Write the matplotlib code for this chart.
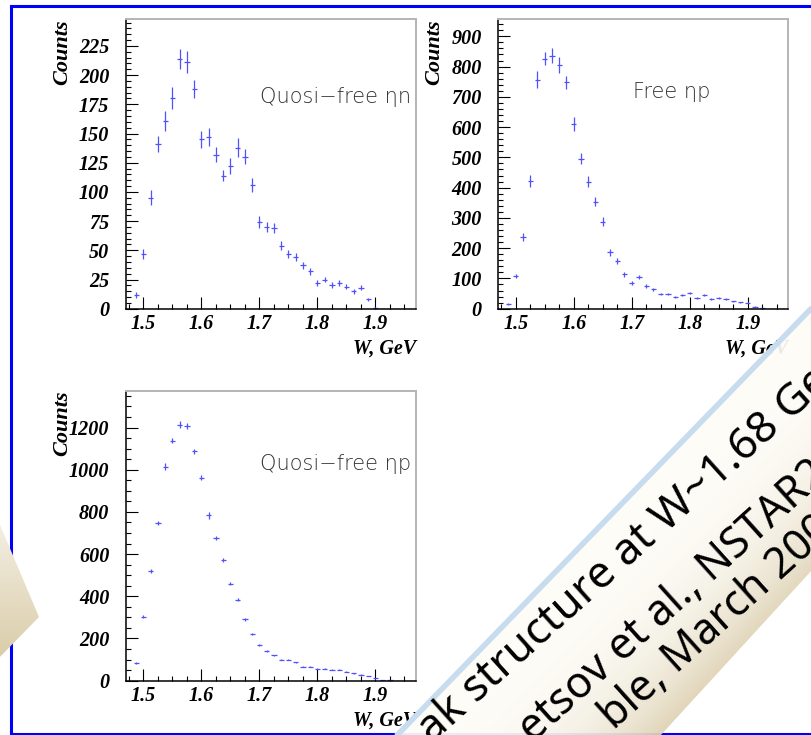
import numpy as np
import matplotlib.pyplot as plt
from matplotlib.patches import Polygon
from matplotlib.ticker import MultipleLocator

# bin centres of the W spectra, GeV
w_centres = np.arange(1.4875, 1.97, 0.0125)

# quasi-free eta n
counts_eta_n = [12, 47, 95, 141, 161, 180, 214, 211, 188, 145, 147, 132, 114, 122,
                138, 130, 106, 74, 70, 69, 54, 47, 44, 37, 32, 22, 25, 20, 22, 19,
                15, 18, 8, 1, 0, 0, 0, 0, 0]
err_eta_n = [2.5, 4.3, 6.3, 7, 8.6, 9.4, 8.5, 9.3, 8, 7, 7.5, 6.4, 5, 7, 8, 6.4,
             5.7, 5, 4.5, 4.5, 4, 3.5, 3.5, 3, 3, 2.5, 2.5, 2.5, 2.5, 2.2, 2, 2.2,
             1.5, 0.5, 0, 0, 0, 0, 0]

# free eta p
counts_free_p = [15, 109, 237, 422, 757, 826, 836, 806, 748, 610, 496, 419, 354,
                 288, 186, 158, 114, 84, 104, 75, 64, 48, 48, 40, 45, 51, 36, 44,
                 31, 35, 31, 24, 21, 20, 7, 1, 0, 0, 0]
err_free_p = [4, 7, 12, 19, 27, 22, 25, 26, 22, 22, 18, 18, 16, 15, 12, 10, 8, 6,
              7, 5, 4, 4, 4, 3, 3.5, 4, 3, 3.5, 3, 3, 3, 2.5, 2, 2, 1.5, 0.5, 0, 0, 0]

# quasi-free eta p
counts_qf_p = [85, 304, 519, 746, 1015, 1138, 1213, 1208, 1088, 963, 784, 678, 572,
               460, 383, 291, 220, 169, 141, 120, 100, 100, 87, 66, 66, 57, 57, 51,
               51, 43, 35, 28, 22, 11, 3, 1, 0, 0, 0]
err_qf_p = [5, 8, 10, 10, 15, 12, 16, 15, 12, 10, 16, 9, 8, 8, 7, 6, 5, 5, 4, 4, 4,
            4, 3, 3, 3, 3, 3, 2.5, 2.5, 2.5, 2, 2, 2, 1.5, 1, 0.5, 0, 0, 0]

x_ticks = [1.5, 1.6, 1.7, 1.8, 1.9]
x_tick_labels = ['1.5', '1.6', '1.7', '1.8', '1.9']

panel_labels = ['Quosi\u2212free \u03b7n', 'Free \u03b7p', 'Quosi\u2212free \u03b7p']
banner_lines = ['ak structure at W~1.68 GeV', 'etsov et al., NSTAR2005',
                'ble, March 2005']

W, H = 812, 735
serif = dict(family='Liberation Serif', weight='bold', style='italic')


def draw_panel(ax, counts, errs, ymax, ymajor, yminor, label, label_xy):
    ax.errorbar(w_centres, counts, yerr=errs, xerr=0.0045, fmt='none',
                ecolor='#5050ff', elinewidth=0.9, capsize=0, clip_on=True)
    ax.set_xlim(1.47, 1.97)
    ax.set_ylim(0, ymax)

    ax.set_xticks(x_ticks)
    ax.set_xticklabels(x_tick_labels)
    ax.xaxis.set_minor_locator(MultipleLocator(0.025))
    ax.yaxis.set_major_locator(MultipleLocator(ymajor))
    ax.yaxis.set_minor_locator(MultipleLocator(yminor))

    ax.tick_params(which='both', direction='in', top=False, right=False,
                   width=0.8, color='black')
    ax.tick_params(which='major', length=8.5)
    ax.tick_params(which='minor', length=3.5)
    ax.tick_params(axis='y', which='major', pad=12)
    ax.tick_params(axis='x', which='major', pad=4)
    for lab in ax.get_xticklabels() + ax.get_yticklabels():
        lab.set_fontproperties(serif)
        lab.set_fontsize(14.5)

    for side in ['left', 'bottom']:
        ax.spines[side].set_color('black')
        ax.spines[side].set_linewidth(1.1)
    for side in ['top', 'right']:
        ax.spines[side].set_color('#b4b4b4')
        ax.spines[side].set_linewidth(1.4)

    ax.text(1.0, -0.136, 'W, GeV', transform=ax.transAxes, ha='right',
            va='center', fontsize=14.5, **serif)
    ax.text(-0.22, 1.0, 'Counts', transform=ax.transAxes, rotation=90,
            ha='center', va='top', fontsize=16, **serif)
    ax.text(label_xy[0], label_xy[1], label, transform=ax.transAxes,
            ha='left', va='center', fontsize=15, color='#333333',
            family=['DejaVu Sans'], weight='light')


fig = plt.figure(figsize=(W / 100, H / 100), dpi=100)

ax1 = fig.add_axes([0.1552, 0.580, 0.3571, 0.3941])
ax2 = fig.add_axes([0.6137, 0.580, 0.3571, 0.3941])
ax3 = fig.add_axes([0.1552, 0.0739, 0.3571, 0.3946])

draw_panel(ax1, counts_eta_n, err_eta_n, 248, 25, 5, panel_labels[0], (0.462, 0.731))
draw_panel(ax2, counts_free_p, err_free_p, 957, 100, 20, panel_labels[1], (0.464, 0.748))
draw_panel(ax3, counts_qf_p, err_qf_p, 1375, 200, 50, panel_labels[2], (0.462, 0.747))

# slide decorations drawn in pixel coordinates on top
ov = fig.add_axes([0, 0, 1, 1], zorder=10)
ov.set_xlim(0, W)
ov.set_ylim(H, 0)
ov.axis('off')
ov.patch.set_alpha(0)

frame = dict(color='#0000ff', lw=2.2, solid_capstyle='projecting')
ov.plot([11.5, W + 5], [6, 6], **frame)
ov.plot([11.5, 11.5], [6, 733.5], **frame)
ov.plot([11.5, W + 5], [733.5, 733.5], **frame)

yy, xx = np.mgrid[0:H, 0:W] + 0.5

# arrow head at the left edge
arrow = Polygon([(-5, 513), (39, 617), (-5, 662)], closed=True,
                facecolor='none', edgecolor='none')
ov.add_patch(arrow)
ta = np.clip((yy - 530) / 130, 0, 1)
arrow_img = np.dstack([0.95 - 0.10 * ta, 0.93 - 0.13 * ta, 0.88 - 0.22 * ta])
im_a = ov.imshow(arrow_img, extent=(0, W, H, 0), zorder=3, interpolation='bilinear')
im_a.set_clip_path(arrow)

# tilted banner
A = np.array([373.0, 760.0])
B = np.array([900.0, 217.0])
u = (B - A) / np.hypot(*(B - A))
n = np.array([-u[1], u[0]])
banner = Polygon([(373, 760), (900, 217), (900, 474), (638, 760)], closed=True,
                 facecolor='none', edgecolor='none')
ov.add_patch(banner)
tb = np.clip(((xx - A[0]) * n[0] + (yy - A[1]) * n[1]) / 190, 0, 1)
c0 = np.array([0.995, 0.99, 0.97])
c1 = np.array([0.87, 0.82, 0.70])
banner_img = c0 + (c1 - c0) * (tb[..., None] ** 3)
im_b = ov.imshow(banner_img, extent=(0, W, H, 0), zorder=4, alpha=0.93,
                 interpolation='bilinear')
im_b.set_clip_path(banner)
ov.plot([373, 900], [760, 217], color='#c8dcef', lw=4, zorder=5,
        solid_capstyle='butt')

line_starts = [(432, 744), (533, 744), (614, 731)]
line_sizes = [32, 31, 31]
for txt, (bx, by), fs in zip(banner_lines, line_starts, line_sizes):
    ov.text(bx, by, txt, rotation=42, rotation_mode='anchor', ha='left',
            va='baseline', fontsize=fs, family=['Noto Sans', 'DejaVu Sans'],
            color='black', zorder=6, clip_on=True)

fig.savefig('out.png', dpi=100)
